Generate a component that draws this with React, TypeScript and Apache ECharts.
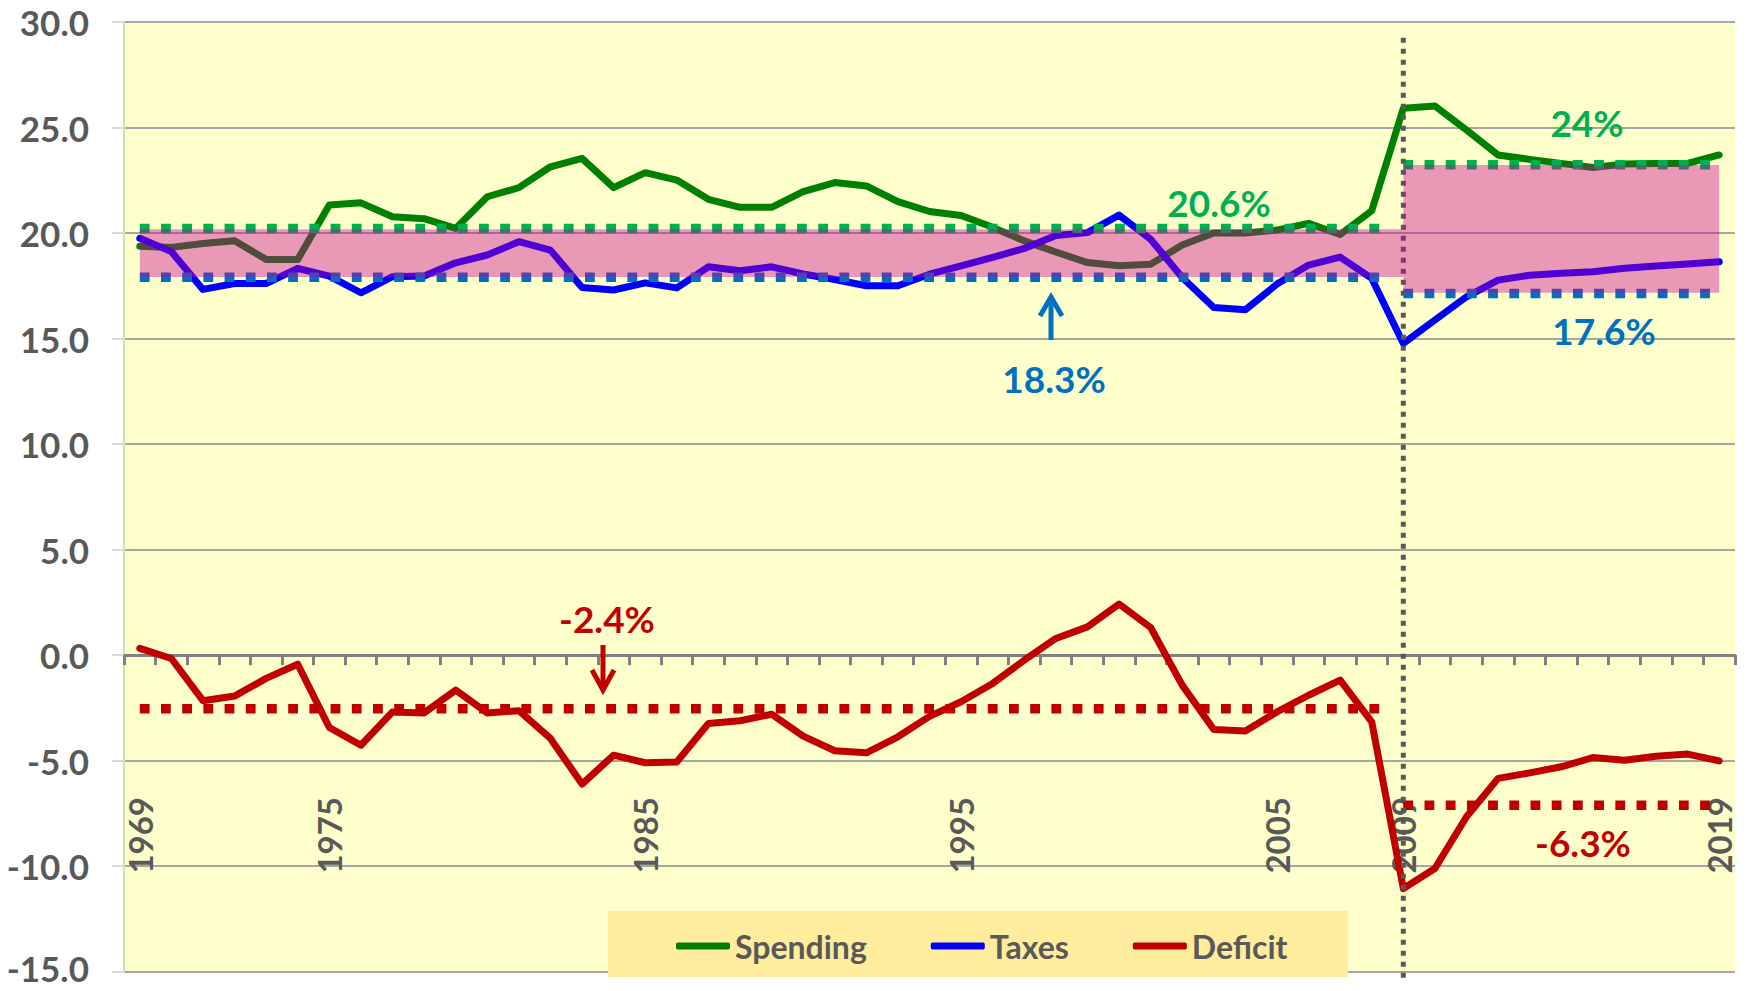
import React, { useEffect, useRef } from 'react';
import * as echarts from 'echarts';

// ---------- data ----------
const years = [
  '1969', '1970', '1971', '1972', '1973', '1974', '1975', '1976', '1977', '1978',
  '1979', '1980', '1981', '1982', '1983', '1984', '1985', '1986', '1987', '1988',
  '1989', '1990', '1991', '1992', '1993', '1994', '1995', '1996', '1997', '1998',
  '1999', '2000', '2001', '2002', '2003', '2004', '2005', '2006', '2007', '2008',
  '2009', '2010', '2011', '2012', '2013', '2014', '2015', '2016', '2017', '2018', '2019',
];
const shownYears = ['1969', '1975', '1985', '1995', '2005', '2009', '2019'];

const spending = [
  19.38, 19.32, 19.5, 19.64, 18.75, 18.75, 21.33, 21.43, 20.77, 20.68,
  20.22, 21.72, 22.15, 23.14, 23.54, 22.15, 22.86, 22.51, 21.6, 21.22,
  21.22, 21.96, 22.39, 22.23, 21.49, 21.02, 20.83, 20.27, 19.63, 19.1,
  18.6, 18.45, 18.52, 19.43, 20.0, 20.0, 20.14, 20.46, 19.93, 21.06,
  25.91, 26.02, 24.88, 23.7, 23.49, 23.3, 23.11, 23.27, 23.3, 23.3, 23.7,
];
const taxes = [
  19.75, 19.12, 17.33, 17.61, 17.61, 18.33, 17.96, 17.17, 17.93, 17.96,
  18.59, 18.96, 19.59, 19.19, 17.42, 17.3, 17.64, 17.4, 18.4, 18.21,
  18.4, 18.06, 17.8, 17.5, 17.5, 18.05, 18.44, 18.85, 19.27, 19.88,
  20.02, 20.85, 19.71, 17.89, 16.47, 16.37, 17.58, 18.48, 18.86, 17.85,
  14.77, 15.88, 16.98, 17.77, 18.0, 18.09, 18.17, 18.33, 18.44, 18.53, 18.64,
];
const deficit = [
  0.32, -0.16, -2.16, -1.94, -1.1, -0.43, -3.43, -4.27, -2.69, -2.74,
  -1.66, -2.74, -2.63, -3.95, -6.11, -4.74, -5.1, -5.06, -3.24, -3.11,
  -2.8, -3.84, -4.53, -4.63, -3.87, -2.9, -2.21, -1.34, -0.24, 0.79,
  1.34, 2.42, 1.31, -1.42, -3.52, -3.59, -2.69, -1.9, -1.18, -3.16,
  -11.06, -10.11, -7.66, -5.84, -5.58, -5.29, -4.85, -4.98, -4.79, -4.69, -5.01,
];

// shaded ranges (period start, end, low, high)
const bandStart = [1969, 2009];
const bandEnd = [2009, 2019];
const bandLow = [17.92, 17.17];
const bandHigh = [20.18, 23.22];

// average reference lines
const refFrom = [1969, 1969, 1969, 2009, 2009, 2009];
const refTo = [2008.5, 2008.5, 2008.5, 2019, 2019, 2019];
const refValue = [20.22, 17.91, -2.54, 23.24, 17.14, -7.11];

// vertical marker at 2009
const markerYear = [2009];
const markerTop = [29.25];
const markerBottom = [-15.4];

// annotation texts
const noteTexts = ['20.6%', '24%', '18.3%', '17.6%', '-2.4%', '-6.3%'];

// ---------- styles ----------
const FONT = 'Lato, "Open Sans", sans-serif';
const GREEN = '#008000';
const BLUE = '#0000FF';
const RED = '#C00000';
const AVG_GREEN = '#00B050';
const AVG_BLUE = '#0070C0';
const refColors = [AVG_GREEN, AVG_BLUE, RED, AVG_GREEN, AVG_BLUE, RED];
const noteColors = [AVG_GREEN, AVG_GREEN, AVG_BLUE, AVG_BLUE, RED, RED];
const notePos: [number, number][] = [
  [1219, 202], [1587, 122], [1054, 378], [1604, 330], [607, 618], [1583, 842],
];

function xAt(api: any, yr: number, v: number) {
  const base = Math.floor(yr);
  const idx = base - 1969;
  const p = api.coord([idx, v]);
  const frac = yr - base;
  if (frac === 0) return p;
  const q = api.coord([idx + 1, v]);
  return [p[0] + (q[0] - p[0]) * frac, p[1]];
}

export default function App() {
  const ref = useRef<HTMLDivElement>(null);
  useEffect(() => {
    const chart = echarts.init(ref.current!, null, { renderer: 'svg' });
    const lineSeries = (name: string, data: number[], color: string) => ({
      name,
      type: 'line',
      data,
      symbol: 'none',
      z: 2,
      lineStyle: { color, width: 7, cap: 'round', join: 'round' },
      itemStyle: { color },
    });
    const yLabelStyle = {
      color: '#595959',
      fontSize: 35,
      fontWeight: 'bold',
      fontFamily: FONT,
    };

    const option: any = {
      animation: false,
      textStyle: { fontFamily: FONT },
      grid: {
        left: 124,
        top: 22,
        width: 1611,
        height: 949.7,
        show: true,
        backgroundColor: '#FFFFCC',
        borderWidth: 0,
        containLabel: false,
        outerBoundsMode: 'none',
      },
      xAxis: [
        {
          // labels (anchored to the plot bottom, shifted up into the lower area)
          type: 'category',
          data: years,
          position: 'bottom',
          boundaryGap: true,
          axisLine: { show: false, onZero: false },
          axisTick: { show: false },
          axisLabel: {
            interval: (_i: number, v: string) => shownYears.includes(v),
            rotate: 90,
            margin: -174.7,
            color: '#595959',
            fontSize: 33,
            fontWeight: 'bold',
            fontFamily: FONT,
          },
          splitLine: { show: false },
        },
        {
          // zero line with ticks
          type: 'category',
          data: years,
          position: 'bottom',
          boundaryGap: true,
          axisLine: { show: true, onZero: true, lineStyle: { color: '#808080', width: 3 } },
          axisTick: { show: true, interval: 0, length: 10, lineStyle: { color: '#808080', width: 3 } },
          axisLabel: { show: false },
          splitLine: { show: false },
        },
      ],
      yAxis: {
        type: 'value',
        min: -15,
        max: 30,
        interval: 5,
        axisLine: { show: true, lineStyle: { color: '#DCDCB4', width: 2 } },
        axisTick: { show: true, length: 12, lineStyle: { color: '#D9D9D9', width: 2 } },
        axisLabel: {
          formatter: (v: number) => (v <= -15 ? '{lo|' + v.toFixed(1) + '}' : v.toFixed(1)),
          margin: 35,
          ...yLabelStyle,
          rich: {
            lo: { ...yLabelStyle, padding: [0, 0, 8, 0] },
          },
        },
        splitLine: { show: true, lineStyle: { color: '#A6A6A6', width: 2 } },
      },
      legend: {
        data: ['Spending', 'Taxes', 'Deficit'],
        left: 676,
        top: 928,
        padding: 0,
        icon: 'roundRect',
        itemWidth: 54,
        itemHeight: 7,
        itemGap: 64,
        textStyle: {
          color: '#595959',
          fontSize: 32,
          fontWeight: 'bold',
          fontFamily: FONT,
          lineHeight: 36,
          padding: [0, 0, 0, 0],
        },
      },
      series: [
        lineSeries('Spending', spending, GREEN),
        lineSeries('Taxes', taxes, BLUE),
        lineSeries('Deficit', deficit, RED),
        {
          type: 'custom',
          z: 3,
          clip: false,
          silent: true,
          data: refValue.map((v, i) => [refFrom[i] - 1969, v]),
          encode: { x: 0, y: 1 },
          renderItem: (params: any, api: any) => {
            const i = params.dataIndex;
            const p0 = xAt(api, refFrom[i], refValue[i]);
            const p1 = xAt(api, refTo[i], refValue[i]);
            return {
              type: 'line',
              shape: { x1: p0[0], y1: p0[1], x2: p1[0], y2: p1[1] },
              style: { stroke: refColors[i], lineWidth: 9.5, lineDash: [9.8, 11.4], lineCap: 'butt' },
            };
          },
        },
        {
          type: 'custom',
          z: 3,
          clip: false,
          silent: true,
          data: markerYear.map((y, i) => [y - 1969, markerTop[i]]),
          encode: { x: 0, y: 1 },
          renderItem: (params: any, api: any) => {
            const i = params.dataIndex;
            const p0 = xAt(api, markerYear[i], markerTop[i]);
            const p1 = xAt(api, markerYear[i], markerBottom[i]);
            return {
              type: 'line',
              shape: { x1: p0[0], y1: p0[1], x2: p1[0], y2: p1[1] },
              style: { stroke: '#595959', lineWidth: 5, lineDash: [5, 6], lineCap: 'butt' },
            };
          },
        },
        {
          type: 'custom',
          z: 4,
          clip: false,
          silent: true,
          data: bandLow.map((v, i) => [bandStart[i] - 1969, v]),
          encode: { x: 0, y: 1 },
          renderItem: (params: any, api: any) => {
            const i = params.dataIndex;
            const p0 = xAt(api, bandStart[i], bandHigh[i]);
            const p1 = xAt(api, bandEnd[i], bandLow[i]);
            return {
              type: 'rect',
              shape: { x: p0[0], y: p0[1], width: p1[0] - p0[0], height: p1[1] - p0[1] },
              style: { fill: 'rgba(200,0,150,0.4)' },
            };
          },
        },
      ],
      graphic: [
        {
          type: 'rect',
          z: 1,
          shape: { x: 608, y: 911, width: 740, height: 66 },
          style: { fill: '#FFEC9C' },
        },
        ...noteTexts.map((t, i) => ({
          type: 'text',
          z: 10,
          x: notePos[i][0],
          y: notePos[i][1],
          style: {
            text: t,
            fill: noteColors[i],
            fontSize: 37,
            fontWeight: 'bold',
            fontFamily: FONT,
            align: 'center',
            verticalAlign: 'middle',
          },
        })),
        {
          type: 'line',
          z: 10,
          shape: { x1: 1051, y1: 340, x2: 1051, y2: 297 },
          style: { stroke: AVG_BLUE, lineWidth: 5 },
        },
        {
          type: 'polyline',
          z: 10,
          shape: { points: [[1040, 316], [1051, 297], [1062, 316]] },
          style: { stroke: AVG_BLUE, lineWidth: 5, fill: null },
        },
        {
          type: 'line',
          z: 10,
          shape: { x1: 603, y1: 645, x2: 603, y2: 690 },
          style: { stroke: RED, lineWidth: 5 },
        },
        {
          type: 'polyline',
          z: 10,
          shape: { points: [[592, 670], [603, 690], [614, 670]] },
          style: { stroke: RED, lineWidth: 5, fill: null },
        },
      ],
    };
    chart.setOption(option);
    return () => chart.dispose();
  }, []);
  return (
    <div
      ref={ref}
      style={{ position: 'fixed', left: 0, top: 0, width: 1747, height: 991, background: '#FFFFFF' }}
    />
  );
}
